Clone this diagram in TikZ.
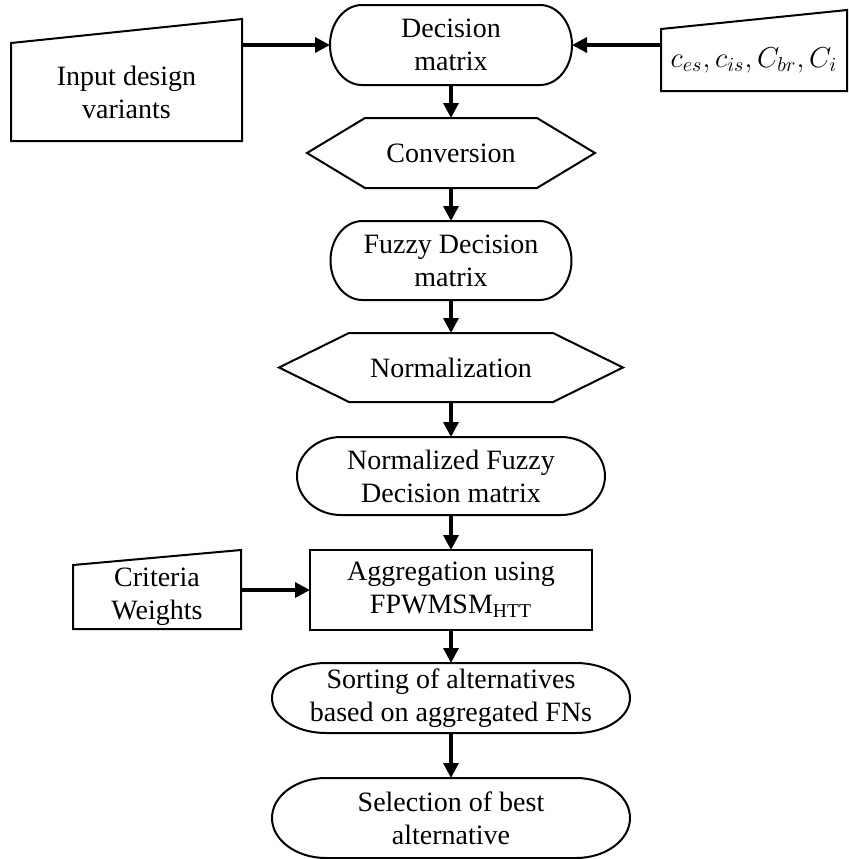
\documentclass[tikz,border=0pt]{standalone}
\usepackage{fontspec}
\setmainfont{Liberation Serif}
\usetikzlibrary{arrows.meta,calc}
\tikzset{
  box/.style={inner sep=0pt, outer sep=0pt, align=center, font=\fontsize{14}{16.5}\selectfont},
  outline/.style={line width=1pt, line join=miter},
  flow/.style={line width=1.6pt, -{Triangle[length=7.5pt,width=7.5pt]}},
}
% stadium outline with elliptical ends: name, x radius, y radius
\newcommand\stadiumpath[3]{%
  \draw[outline] ($(#1.north west)+(#2,0pt)$) -- ($(#1.north east)-(#2,0pt)$)
    arc[start angle=90,end angle=-90,x radius=#2,y radius=#3]
    -- ($(#1.south west)+(#2,0pt)$)
    arc[start angle=270,end angle=90,x radius=#2,y radius=#3] -- cycle;}
% hexagon outline: name, tip offset
\newcommand\hexpath[2]{%
  \draw[outline] (#1.north west) -- (#1.north east) -- ($(#1.east)+(#2,0pt)$)
    -- (#1.south east) -- (#1.south west) -- ($(#1.west)-(#2,0pt)$) -- cycle;}
% manual input outline: name, rise of top right corner
\newcommand\manualpath[2]{%
  \draw[outline] (#1.south west) -- (#1.north west) -- ($(#1.north east)+(0pt,#2)$)
    -- (#1.south east) -- cycle;}
\begin{document}
\begin{tikzpicture}[x=0.5pt,y=-0.5pt]
\useasboundingbox (0,0) rectangle (849,859);
% nodes
\node[box, minimum width=115.5pt, minimum height=49pt] (inp) at (126.5,92) {Input design\\variants};
\node[box, minimum width=93pt, minimum height=31pt] (cb) at (754,60) {\raisebox{-2.5pt}{$c_{es}, c_{is}, C_{br}, C_i$}};
\node[box, minimum width=121pt, minimum height=40pt] (dm) at (451,45) {Decision\\matrix};
\node[box, minimum width=86pt, minimum height=35pt] (conv) at (451,153) {Conversion};
\node[box, minimum width=120.5pt, minimum height=39.5pt] (fdm) at (451,260.5) {Fuzzy Decision\\matrix};
\node[box, minimum width=102pt, minimum height=34.5pt] (norm) at (451,367.5) {Normalization};
\node[box, minimum width=154pt, minimum height=39pt] (nfdm) at (451,476) {Normalized Fuzzy\\Decision matrix};
\node[box, minimum width=141pt, minimum height=40pt] (agg) at (451,590) {Aggregation using\\FPWMSM\textsubscript{HTT}};
\node[box, minimum width=84pt, minimum height=32pt] (cw) at (157,597) {Criteria\\Weights};
\node[box, minimum width=179pt, minimum height=35pt] (sort) at (451,698) {Sorting of alternatives\\based on aggregated FNs};
\node[box, minimum width=179pt, minimum height=40pt] (sel) at (451,818) {Selection of best\\alternative};
% outlines
\manualpath{inp}{12pt}
\manualpath{cb}{9.5pt}
\stadiumpath{dm}{16pt}{20pt}
\hexpath{conv}{29pt}
\stadiumpath{fdm}{16pt}{19.75pt}
\hexpath{norm}{35pt}
\stadiumpath{nfdm}{22pt}{19.5pt}
\draw[outline] (agg.north west) rectangle (agg.south east);
\manualpath{cw}{7.5pt}
\stadiumpath{sort}{27pt}{17.5pt}
\stadiumpath{sel}{27pt}{20pt}
% connectors
\draw[flow] (inp.north east |- dm.west) -- (dm.west);
\draw[flow] (cb.west |- dm.east) -- (dm.east);
\draw[flow] (dm.south) -- (conv.north);
\draw[flow] (conv.south) -- (fdm.north);
\draw[flow] (fdm.south) -- (norm.north);
\draw[flow] (norm.south) -- (nfdm.north);
\draw[flow] (nfdm.south) -- (agg.north);
\draw[flow] (cw.east |- agg.west) -- (agg.west);
\draw[flow] (agg.south) -- (sort.north);
\draw[flow] (sort.south) -- (sel.north);
\end{tikzpicture}
\end{document}
